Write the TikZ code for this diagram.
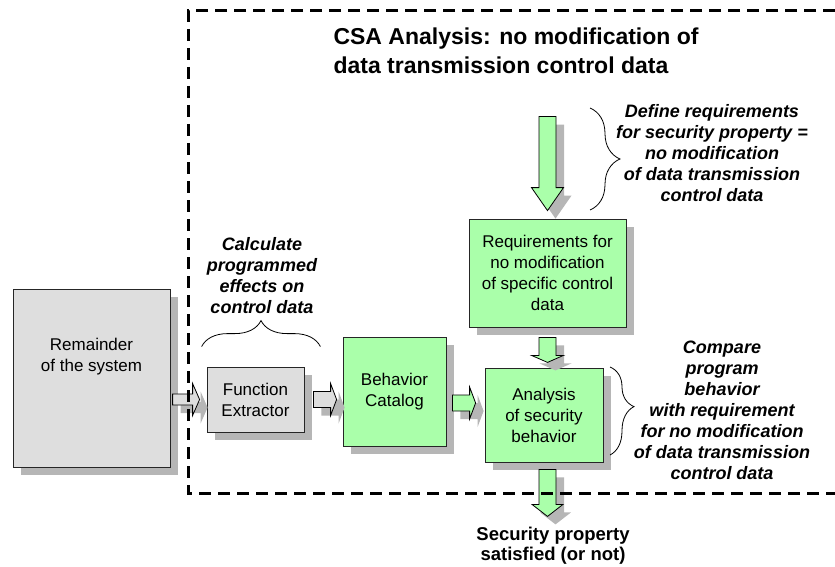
\documentclass[tikz,border=0pt]{standalone}
\usepackage{fontspec}
\setmainfont{Liberation Sans}
\usetikzlibrary{calc,shadows,decorations.pathreplacing}

\definecolor{boxgreen}{RGB}{170,255,170}
\definecolor{boxgray}{RGB}{222,222,222}
\definecolor{shadowgray}{RGB}{182,182,182}

% block arrows: style, tail, tip, half shaft, half head, head length
\newcommand{\blockright}[6]{%
  \path[#1] let \p1=(#2), \p2=(#3) in
    (\x1,{\y2+#4pt}) -- ({\x2-#6pt},{\y2+#4pt}) -- ({\x2-#6pt},{\y2+#5pt})
    -- (\x2,\y2) -- ({\x2-#6pt},{\y2-#5pt}) -- ({\x2-#6pt},{\y2-#4pt})
    -- (\x1,{\y2-#4pt}) -- cycle;}
\newcommand{\blockdown}[6]{%
  \path[#1] let \p1=(#2), \p2=(#3) in
    ({\x2-#4pt},\y1) -- ({\x2-#4pt},{\y2+#6pt}) -- ({\x2-#5pt},{\y2+#6pt})
    -- (\x2,\y2) -- ({\x2+#5pt},{\y2+#6pt}) -- ({\x2+#4pt},{\y2+#6pt})
    -- ({\x2+#4pt},\y1) -- cycle;}

\begin{document}
\begin{tikzpicture}
  [x=1pt,y=-1pt,
     boxshadow/.style={drop shadow={shadow xshift=8pt,
                  shadow yshift=-8pt,
                  fill=shadowgray,
                  opacity=1}},
     box/.style={draw=black!85,
                  line width=0.8pt,
                  inner sep=0pt,
                  boxshadow},
     boxtext/.style={align=center,
                  font=\fontsize{17}{21}\selectfont},
     graybox/.style={box, boxtext, fill=boxgray},
     greenbox/.style={box, boxtext, fill=boxgreen},
     grayarrow/.style={draw=black,
                  line width=0.8pt,
                  fill=boxgray,
                  boxshadow},
     greenarrow/.style={grayarrow, fill=boxgreen},
     note/.style={align=center,
                  font=\fontsize{18}{21}\selectfont\bfseries\itshape},
     curly/.style={decorate, line width=0.8pt},
     frame/.style={line width=3pt,
                  dash pattern=on 12pt off 7pt}
  ]
    \useasboundingbox (0,0) rectangle (835,567);

    % boxes
    \node[graybox, minimum width=157, minimum height=178] (rem) at (91.5,378) {};
    \node[boxtext] (remtext) at ($(rem.center)+(0,-21)$) {Remainder\\of the system};
    \node[graybox, minimum width=97, minimum height=65] (fe) at (255.5,399.5) {Function\\Extractor};
    \node[greenbox, minimum width=103, minimum height=109] (bc) at (394.5,391.5) {Behavior\\Catalog};
    \node[greenbox, minimum width=157, minimum height=108] (req) at (547.5,273)
        {Requirements for\\no modification\\of specific control\\data};
    \node[greenbox, minimum width=118, minimum height=94] (an) at (544,415)
        {Analysis\\of security\\behavior};

    % block arrows
    \blockright{grayarrow}{$(fe.west)+(-34,0)$}{$(fe.west)+(-7,0)$}{5.5}{16}{7}
    \blockright{grayarrow}{$(fe.east)+(9,0)$}{$(bc.west |- fe.east)+(-6,0)$}{8}{16}{6}
    \blockright{greenarrow}{$(bc.east)+(6,0)$}{$(an.west)+(-9,-12)$}{8}{16}{6}
    \blockdown{greenarrow}{$(req.north)+(0,-102)$}{$(req.north)+(0,-8)$}{8.5}{16}{23}
    \blockdown{greenarrow}{$(req.south)+(0,10)$}{$(req.south)+(0,35)$}{8.5}{16}{7}
    \blockdown{greenarrow}{$(an.south -| req.south)+(0,7)$}{$(an.south -| req.south)+(0,54)$}{8.5}{15.5}{12}

    % braces and notes
    \draw[curly, decoration={brace, amplitude=26pt, aspect=.5}]
        ($(fe.north west)+(-5,-20)$) -- ($(fe.north east)+(16,-20)$);
    \draw[curly, decoration={brace, amplitude=30pt, aspect=.5}] (590,108) -- (590,210);
    \draw[curly, decoration={brace, amplitude=24pt, aspect=.45}] (610,367) -- (610,455);

    \node[note] (calc) at (262,276) {Calculate\\programmed\\effects on\\control data};
    \node[note] (define) at (712,153.5)
        {Define requirements\\for security property =\\no modification\\of data transmission\\control data};
    \node[note] (compare) at (722,410.5)
        {Compare\\program\\behavior\\with requirement\\for no modification\\of data transmission\\control data};
    \node[align=center, font=\fontsize{18.5}{20}\selectfont\bfseries] (out) at (553,546)
        {Security property\\satisfied (or not)};

    % CSA frame
    \node[anchor=west, align=left, font=\fontsize{23}{29}\selectfont\bfseries] (title) at (330,51)
        {CSA Analysis: no modification of\\data transmission control data};
    \draw[frame] (835,11) -- (188,11) -- (188,493) -- (835,493);

\end{tikzpicture}
\end{document}
